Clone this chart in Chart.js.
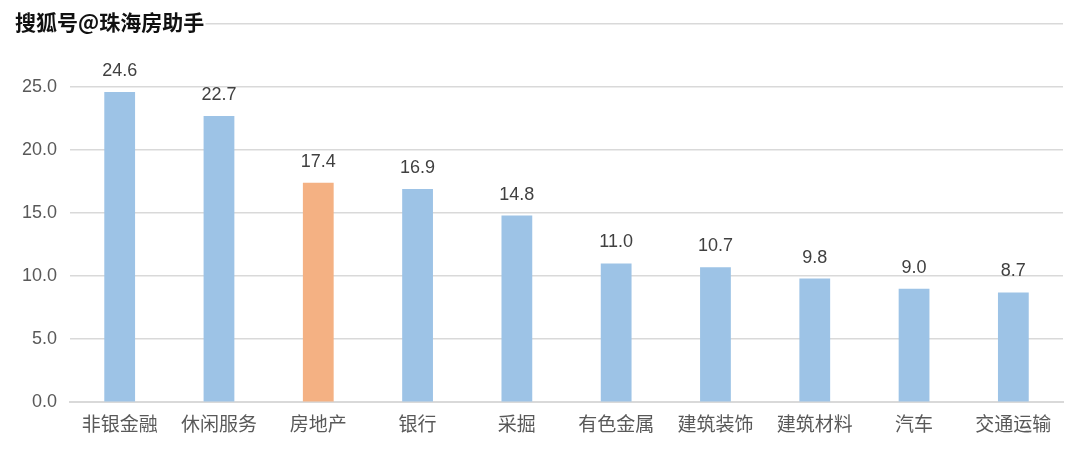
<!DOCTYPE html>
<html>
<head>
<meta charset="utf-8">
<script src="https://cdn.jsdelivr.net/npm/chart.js@4.4.4/dist/chart.umd.min.js"></script>
<style>
  html, body { margin: 0; padding: 0; background: #fff; }
  #wrap { width: 1080px; height: 468px; position: relative; }
</style>
</head>
<body>
<div id="wrap"><canvas id="chart"></canvas></div>
<script>
// ── Data ───────────────────────────────────────────────────────────────────
const categories = ['非银金融', '休闲服务', '房地产', '银行', '采掘', '有色金属', '建筑装饰', '建筑材料', '汽车', '交通运输'];
const values     = [24.6, 22.7, 17.4, 16.9, 14.8, 11.0, 10.7, 9.8, 9.0, 8.7];
const highlight  = '房地产';
const watermark  = '搜狐号@珠海房助手';

const BLUE   = '#9DC3E6';
const ORANGE = '#F4B183';
const CJK    = '"Noto Sans CJK SC", "Noto Sans", sans-serif';
const NUM    = '"Liberation Sans", Arial, sans-serif';

// value labels above each bar
const valueLabels = {
  id: 'valueLabels',
  afterDatasetsDraw(chart) {
    const { ctx } = chart;
    const meta = chart.getDatasetMeta(0);
    ctx.save();
    ctx.font = '18px ' + NUM;
    ctx.fillStyle = '#404040';
    ctx.textAlign = 'center';
    ctx.textBaseline = 'alphabetic';
    meta.data.forEach((bar, i) => {
      ctx.fillText(values[i].toFixed(1), bar.x, bar.y - 16);
    });
    ctx.restore();
  },
};

// watermark in the top-left corner, drawn over the grid
const stamp = {
  id: 'stamp',
  afterDraw(chart) {
    const { ctx } = chart;
    ctx.save();
    ctx.font = 'bold 21px ' + CJK;
    ctx.textBaseline = 'middle';
    ctx.lineJoin = 'round';
    ctx.lineWidth = 4;
    ctx.strokeStyle = '#fff';
    ctx.strokeText(watermark, 15, 22);
    ctx.fillStyle = '#111';
    ctx.fillText(watermark, 15, 22);
    ctx.restore();
  },
};

new Chart(document.getElementById('chart'), {
  type: 'bar',
  data: {
    labels: categories,
    datasets: [{
      data: values,
      backgroundColor: categories.map(c => c === highlight ? ORANGE : BLUE),
      categoryPercentage: 1,
      barPercentage: 0.31,
    }],
  },
  options: {
    responsive: true,
    maintainAspectRatio: false,
    animation: false,
    layout: { padding: { top: 22, right: 17, left: 9, bottom: 31 } },
    plugins: { legend: { display: false }, tooltip: { enabled: false } },
    scales: {
      x: {
        grid: { display: false },
        border: { color: '#d9d9d9', width: 2 },
        ticks: { color: '#595959', font: { size: 19, family: CJK }, padding: 2 },
      },
      y: {
        min: 0,
        max: 30,
        grid: { color: '#d9d9d9', lineWidth: 1.5, drawTicks: false },
        border: { display: false },
        ticks: {
          stepSize: 5,
          color: '#595959',
          padding: 13,
          font: { size: 18, family: NUM },
          callback: v => v === 30 ? '' : v.toFixed(1),
        },
      },
    },
  },
  plugins: [valueLabels, stamp],
});
</script>
</body>
</html>
